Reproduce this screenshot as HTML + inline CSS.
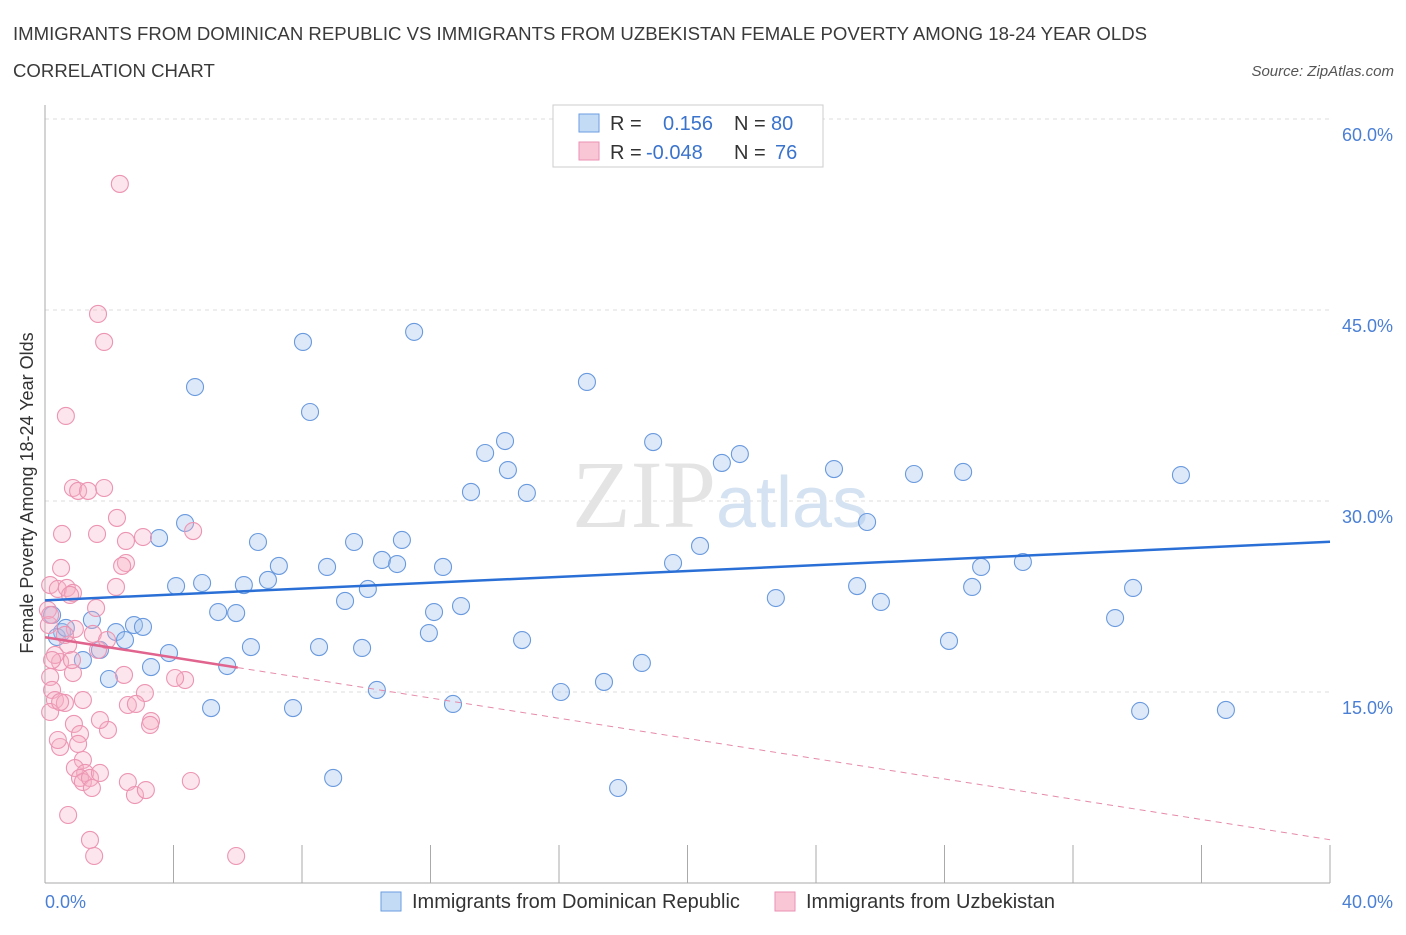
<!DOCTYPE html>
<html><head><meta charset="utf-8"><style>
body{margin:0;background:#fff;font-family:"Liberation Sans",sans-serif;}
</style></head><body>
<svg width="1406" height="930" xmlns="http://www.w3.org/2000/svg">
<text x="13" y="40" font-size="18.6" fill="#3a3a3a">IMMIGRANTS FROM DOMINICAN REPUBLIC VS IMMIGRANTS FROM UZBEKISTAN FEMALE POVERTY AMONG 18-24 YEAR OLDS</text>
<text x="13" y="77" font-size="18.6" fill="#3a3a3a">CORRELATION CHART</text>
<text x="1394" y="76" font-size="15" fill="#555" font-style="italic" text-anchor="end">Source: ZipAtlas.com</text>
<g id="grid"></g>
<text x="716" y="527" font-size="96" fill="#e4e4e4" font-family="Liberation Serif,serif" text-anchor="end">ZIP</text>
<text x="716" y="527" font-size="72" fill="#d4e2f2">atlas</text>
<g id="marks"></g>
<text x="33" y="493" font-size="18" fill="#333" transform="rotate(-90 33 493)" text-anchor="middle">Female Poverty Among 18-24 Year Olds</text>
<text x="45" y="908" font-size="18" fill="#4a7fd4">0.0%</text>
<text x="1393" y="908" font-size="18" fill="#4a7fd4" text-anchor="end">40.0%</text>
<g>
<rect x="553" y="105" width="270" height="62" fill="#fff" stroke="#ccc"/>
<rect x="579" y="114" width="20" height="18" fill="#c4dbf6" stroke="#6b9ee0"/>
<rect x="579" y="142" width="20" height="18" fill="#f9c6d6" stroke="#ea92b0"/>
<text x="610" y="130" font-size="20" fill="#333">R =</text>
<text x="663" y="130" font-size="20" fill="#3a73cc">0.156</text>
<text x="734" y="130" font-size="20" fill="#333">N =</text>
<text x="771" y="130" font-size="20" fill="#3a73cc">80</text>
<text x="610" y="159" font-size="20" fill="#333">R =</text>
<text x="646" y="159" font-size="20" fill="#3a73cc">-0.048</text>
<text x="734" y="159" font-size="20" fill="#333">N =</text>
<text x="775" y="159" font-size="20" fill="#3a73cc">76</text>
</g>
<g>
<rect x="381" y="892" width="20" height="19" fill="#c4dbf6" stroke="#6b9ee0"/>
<text x="412" y="908" font-size="20" fill="#333">Immigrants from Dominican Republic</text>
<rect x="775" y="892" width="20" height="19" fill="#f9c6d6" stroke="#ea92b0"/>
<text x="806" y="908" font-size="20" fill="#333">Immigrants from Uzbekistan</text>
</g>
</svg>
<script>
const yTicks=[15,30,45,60];
const yTickLabels=["15.0%","30.0%","45.0%","60.0%"];
const xTicks=[0,4,8,12,16,20,24,28,32,36,40];
const blueX=[4.67,8.03,11.49,8.25,16.87,13.70,18.93,14.32,14.41,21.63,21.07,13.26,15.00,24.56,27.05,28.58,35.36,25.59,4.36,3.55,6.63,9.62,11.11,20.39,10.49,10.96,7.28,8.78,12.39,19.55,6.94,6.19,4.89,4.08,10.05,25.28,28.86,29.14,30.44,33.87,9.34,22.75,26.02,12.95,5.39,5.95,12.11,33.31,1.46,2.77,3.05,2.21,11.95,14.85,28.14,0.53,0.37,1.71,2.49,6.41,8.53,9.87,3.86,3.30,1.18,5.67,18.58,1.99,10.33,16.06,17.40,5.17,7.72,12.70,34.09,36.76,8.97,17.84,0.22,0.65];
const blueY=[38.95,42.49,43.28,36.99,39.35,33.77,34.63,34.71,32.43,33.69,32.99,30.71,30.63,32.51,32.12,32.28,32.04,28.35,28.27,27.09,26.78,26.78,26.94,26.47,25.37,25.05,24.90,24.82,24.82,25.13,23.80,23.40,23.56,23.32,23.09,23.32,23.25,24.82,25.21,23.17,22.15,22.38,22.07,21.75,21.28,21.20,21.28,20.81,20.66,20.26,20.11,19.71,19.63,19.08,19.01,19.71,19.32,18.30,19.08,18.53,18.53,18.46,18.06,16.96,17.51,17.04,17.28,16.02,15.16,15.00,15.79,13.74,13.74,14.06,13.51,13.59,8.25,7.46,21.05,20.03];
const pinkX=[2.33,1.65,1.84,0.65,0.87,1.03,1.34,1.84,2.24,0.53,1.62,4.61,2.52,3.05,0.50,2.52,2.40,0.16,0.40,0.68,0.87,0.78,2.21,0.09,0.12,1.49,0.93,0.72,1.65,0.47,0.16,0.22,0.87,4.36,4.05,3.11,2.58,2.83,0.31,0.62,1.18,0.16,0.47,3.30,0.90,1.96,1.09,1.03,0.47,1.18,0.93,1.25,1.09,1.18,1.40,1.71,1.46,4.54,2.58,2.80,0.72,1.40,1.53,5.95,0.16,0.31,0.62,1.59,0.84,0.22,1.93,2.46,3.27,0.40,1.71,3.14];
const pinkY=[54.90,44.69,42.49,36.68,31.02,30.79,30.79,31.02,28.67,27.41,27.41,27.64,26.86,27.17,24.74,25.13,24.90,23.40,23.09,23.17,22.78,22.62,23.25,21.44,20.26,19.56,19.95,18.69,18.30,17.36,16.18,15.16,16.49,15.94,16.10,14.92,13.98,14.06,14.37,14.14,14.37,13.43,14.21,12.72,12.49,12.02,11.70,10.92,10.68,9.66,9.03,8.64,8.25,7.93,8.25,8.64,7.46,8.01,7.93,6.91,5.34,3.38,2.12,2.12,21.05,17.91,19.48,21.60,17.51,17.51,19.08,16.34,12.41,11.23,12.80,7.30];
const blueTrend=[22.2,26.8];
const pinkTrend=[19.3,3.4];
const pinkSolidEnd=6;
const X0=45,X1=1330,Y0=883,YPER=191/15;
const sx=v=>X0+(v/40)*(X1-X0);
const sy=v=>Y0-v*YPER;
const NS="http://www.w3.org/2000/svg";
const grid=document.getElementById('grid'),marks=document.getElementById('marks');
function mk(tag,attrs,parent){const e=document.createElementNS(NS,tag);for(const k in attrs)e.setAttribute(k,attrs[k]);parent.appendChild(e);return e;}
yTicks.forEach((t,i)=>{
 const l=mk('line',{x1:X0,x2:1330,y1:sy(t),y2:sy(t),stroke:'#ddd','stroke-dasharray':'4,4'},grid);
 
 
 const tx=mk('text',{x:1393,y:sy(t)+22,'font-size':18,fill:'#4a7fd4','text-anchor':'end'},grid);
 tx.textContent=yTickLabels[i];
 
 
});
const ax=mk('line',{x1:X0,x2:X0,y1:105,y2:Y0,stroke:'#aaa'},grid);


const bx=mk('line',{x1:X0,x2:X1,y1:Y0,y2:Y0,stroke:'#aaa'},grid);


xTicks.forEach(t=>{
 const l=mk('line',{x1:sx(t),x2:sx(t),y1:Y0-38,y2:Y0,stroke:'#aaa'},grid);
 
 
});
blueX.forEach((v,i)=>{
 const c=mk('circle',{cx:sx(v),cy:sy(blueY[i]),r:8.5,fill:'rgba(165,198,240,0.38)',stroke:'#6a9ade','stroke-width':1.1},marks);
 
 
});
pinkX.forEach((v,i)=>{
 const c=mk('circle',{cx:sx(v),cy:sy(pinkY[i]),r:8.5,fill:'rgba(246,175,198,0.33)',stroke:'#ec95b2','stroke-width':1.1},marks);
 
 
});
const bl=mk('line',{x1:sx(0),y1:sy(blueTrend[0]),x2:sx(40),y2:sy(blueTrend[1]),stroke:'#2a6fd6','stroke-width':2.5},marks);


const pAt=x=>pinkTrend[0]+(pinkTrend[1]-pinkTrend[0])*x/40;
const pl=mk('line',{x1:sx(0),y1:sy(pAt(0)),x2:sx(pinkSolidEnd),y2:sy(pAt(pinkSolidEnd)),stroke:'#e0648e','stroke-width':2.5},marks);


const pd=mk('line',{x1:sx(pinkSolidEnd),y1:sy(pAt(pinkSolidEnd)),x2:sx(40),y2:sy(pAt(40)),stroke:'#e68aa9','stroke-width':1,'stroke-dasharray':'6,5'},marks);


</script>
</body></html>
